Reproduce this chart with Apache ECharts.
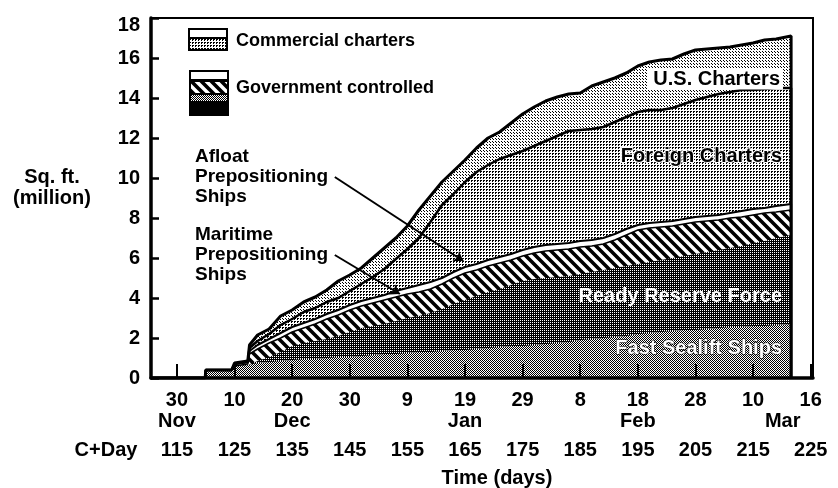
<!DOCTYPE html>
<html>
<head>
<meta charset="utf-8">
<title>Sealift capacity</title>
<script src="https://cdn.jsdelivr.net/npm/echarts@6/dist/echarts.min.js"></script>
<style>
  html, body { margin: 0; padding: 0; background: #fff; }
  #chart { width: 838px; height: 488px; }
</style>
</head>
<body>
<div id="chart"></div>
<script>
  // C+Day of each reading (last one repeated to close the area at the right edge)
  var days = [110.5, 119.9, 120, 124.5, 125, 127.3, 127.6, 129, 131, 133, 135, 137, 139, 141, 143, 145,
    147, 149, 151, 153, 155, 157, 159, 161, 163, 165, 167, 169, 171, 173, 175, 177, 179, 181, 183, 185,
    187, 189, 191, 193, 195, 197, 199, 201, 203, 205, 207, 209, 211, 213, 215, 217, 219, 221.6, 221.6];

  // top of each band (cumulative, million sq. ft.)
  var fastSealift = [0, 0, 0.4, 0.4, 0.6, 0.65, 0.7, 0.75, 0.8, 0.85, 0.9, 0.95, 0.95, 1.0, 1.05, 1.05,
    1.1, 1.15, 1.2, 1.2, 1.25, 1.3, 1.3, 1.35, 1.4, 1.4, 1.45, 1.5, 1.55, 1.6, 1.6, 1.65, 1.7, 1.75, 1.8, 1.9,
    1.95, 2.0, 2.05, 2.1, 2.2, 2.25, 2.3, 2.35, 2.4, 2.4, 2.45, 2.5, 2.55, 2.55, 2.6, 2.6, 2.65, 2.7, 0];
  var readyReserve = [0, 0, 0.4, 0.4, 0.6, 0.65, 0.75, 0.85, 1.05, 1.3, 1.6, 1.75, 1.85, 1.95, 2.1, 2.3,
    2.5, 2.6, 2.7, 2.85, 3.0, 3.1, 3.25, 3.45, 3.7, 3.9, 4.1, 4.3, 4.45, 4.65, 4.85, 4.95, 5.0, 5.05, 5.1, 5.2,
    5.3, 5.4, 5.5, 5.6, 5.7, 5.8, 5.9, 6.0, 6.1, 6.2, 6.3, 6.4, 6.5, 6.6, 6.75, 6.85, 7.0, 7.15, 0];
  var maritimePrepo = [0, 0, 0.4, 0.4, 0.6, 0.7, 1.2, 1.45, 1.75, 2.0, 2.3, 2.5, 2.7, 2.95, 3.15, 3.4,
    3.6, 3.75, 3.9, 4.05, 4.2, 4.3, 4.45, 4.7, 5.0, 5.25, 5.4, 5.6, 5.75, 5.9, 6.1, 6.25, 6.35, 6.4, 6.45, 6.55,
    6.6, 6.7, 6.9, 7.15, 7.4, 7.5, 7.55, 7.6, 7.7, 7.8, 7.85, 7.9, 8.0, 8.05, 8.15, 8.25, 8.3, 8.4, 0];
  var afloatPrepo = [0, 0, 0.4, 0.4, 0.7, 0.8, 1.35, 1.65, 1.95, 2.25, 2.55, 2.75, 2.95, 3.2, 3.4, 3.65,
    3.85, 4.0, 4.15, 4.35, 4.5, 4.65, 4.8, 5.0, 5.3, 5.55, 5.7, 5.9, 6.05, 6.2, 6.4, 6.55, 6.65, 6.7, 6.75, 6.85,
    6.9, 7.0, 7.2, 7.45, 7.65, 7.75, 7.8, 7.85, 7.95, 8.05, 8.1, 8.15, 8.25, 8.35, 8.45, 8.5, 8.6, 8.7, 0];
  var foreignCharters = [0, 0, 0.4, 0.4, 0.7, 0.8, 1.5, 1.85, 2.2, 2.65, 2.95, 3.3, 3.5, 3.8, 4.0, 4.35,
    4.7, 5.05, 5.45, 5.95, 6.45, 7.0, 7.8, 8.65, 9.2, 9.8, 10.3, 10.65, 10.95, 11.15, 11.35, 11.6, 11.85, 12.1, 12.35, 12.4,
    12.45, 12.55, 12.8, 13.05, 13.3, 13.4, 13.4, 13.5, 13.7, 13.9, 14.05, 14.2, 14.3, 14.4, 14.4, 14.45, 14.5, 14.5, 0];
  var usCharters = [0, 0, 0.4, 0.4, 0.75, 0.85, 1.65, 2.15, 2.45, 3.1, 3.4, 3.8, 4.05, 4.4, 4.85, 5.15,
    5.5, 6.0, 6.5, 7.0, 7.6, 8.4, 9.1, 9.8, 10.35, 10.9, 11.5, 12.0, 12.3, 12.75, 13.2, 13.55, 13.85, 14.05, 14.2, 14.25,
    14.6, 14.8, 15.0, 15.25, 15.6, 15.8, 15.9, 15.95, 16.2, 16.4, 16.45, 16.5, 16.55, 16.65, 16.75, 16.9, 16.95, 17.1, 0];

  // tick labels
  var cDayTicks = [115, 125, 135, 145, 155, 165, 175, 185, 195, 205, 215, 225];
  var dateLabels = ['30', '10', '20', '30', '9', '19', '29', '8', '18', '28', '10', '16'];
  var monthLabels = ['Nov', '', 'Dec', '', '', 'Jan', '', '', 'Feb', '', '', 'Mar'];

  // leader lines of the two annotations [day, value]
  var afloatLeader = [[142.4, 10.05], [164.7, 5.85]];
  var maritimeLeader = [[142.4, 6.15], [153.7, 4.2]];

  var FONT = '"Liberation Sans", Arial, sans-serif';

  // small canvas tiles to imitate the halftone fills
  function pattern(w, h, paint) {
    var c = document.createElement('canvas');
    c.width = w; c.height = h;
    var ctx = c.getContext('2d');
    ctx.fillStyle = '#fff';
    ctx.fillRect(0, 0, w, h);
    ctx.fillStyle = '#000';
    paint(ctx);
    return { image: c, repeat: 'repeat' };
  }
  var checker = pattern(2, 2, function (ctx) { ctx.fillRect(0, 0, 1, 1); ctx.fillRect(1, 1, 1, 1); });
  var darkDots = pattern(2, 2, function (ctx) { ctx.fillRect(0, 0, 2, 2); ctx.fillStyle = '#fff'; ctx.fillRect(0, 0, 1, 1); });
  var hatch = pattern(10, 10, function (ctx) {
    ctx.strokeStyle = '#000';
    ctx.lineWidth = 3.6;
    ctx.beginPath();
    [-10, 0, 10].forEach(function (k) { ctx.moveTo(k - 2, -2); ctx.lineTo(k + 12, 12); });
    ctx.stroke();
  });
  var midDots = pattern(3, 3, function (ctx) { ctx.fillRect(0, 0, 2, 1); ctx.fillRect(0, 1, 1, 1); });
  var lightDots = pattern(3, 3, function (ctx) { ctx.fillRect(0, 0, 1, 1); ctx.fillRect(1, 1, 1, 1); });

  function band(name, values, fill, lineWidth) {
    return {
      name: name,
      type: 'line',
      data: days.map(function (d, i) { return [d, values[i]]; }),
      symbol: 'none',
      showSymbol: false,
      silent: true,
      lineStyle: { color: '#000', width: lineWidth, opacity: lineWidth ? 1 : 0 },
      areaStyle: { color: fill, opacity: 1 }
    };
  }

  var series = [
    band('U.S. Charters', usCharters, lightDots, 3),
    band('Foreign Charters', foreignCharters, midDots, 2.5),
    band('Afloat Prepositioning Ships', afloatPrepo, '#fff', 2),
    band('Maritime Prepositioning Ships', maritimePrepo, hatch, 1.5),
    band('Ready Reserve Force', readyReserve, darkDots, 0),
    band('Fast Sealift Ships', fastSealift, checker, 0)
  ];
  series[5].markLine = {
    silent: true,
    symbol: ['none', 'arrow'],
    symbolSize: 9,
    label: { show: false },
    lineStyle: { color: '#000', width: 2, type: 'solid' },
    data: [
      [{ coord: afloatLeader[0] }, { coord: afloatLeader[1] }],
      [{ coord: maritimeLeader[0] }, { coord: maritimeLeader[1] }]
    ]
  };

  function txt(text, x, y, size, align, extra) {
    var style = {
      text: text, x: x, y: y, fill: '#000',
      font: 'bold ' + size + 'px ' + FONT,
      textAlign: align, align: align,
      textVerticalAlign: 'middle', verticalAlign: 'middle'
    };
    for (var k in extra) style[k] = extra[k];
    return { type: 'text', z: 20, silent: true, style: style };
  }

  var myChart = echarts.init(document.getElementById('chart'));

  var option = {
    animation: false,
    backgroundColor: '#fff',
    grid: {
      left: 151, right: 25, top: 18, bottom: 110,
      outerBoundsMode: 'none', containLabel: false,
      show: true, borderColor: '#000', borderWidth: 2
    },
    xAxis: [
      {
        type: 'value', min: 110.5, max: 225.4, z: 10,
        splitLine: { show: false },
        axisLine: { lineStyle: { color: '#000', width: 3.5 } },
        axisTick: { inside: true, length: 14, customValues: cDayTicks, lineStyle: { color: '#000', width: 2 } },
        axisLabel: {
          customValues: cDayTicks,
          showMinLabel: true, showMaxLabel: true, hideOverlap: false,
          margin: 12,
          formatter: function (v) {
            var i = cDayTicks.indexOf(v);
            var m = monthLabels[i];
            var key = i === cDayTicks.length - 1 ? 'mr' : 'm';
            return '{d|' + dateLabels[i] + '}\n' + (m ? '{' + key + '|' + m + '}' : '{m| }');
          },
          rich: {
            d: { fontFamily: FONT, fontWeight: 'bold', fontSize: 20, color: '#000', lineHeight: 21 },
            m: { fontFamily: FONT, fontWeight: 'bold', fontSize: 20, color: '#000', lineHeight: 21 },
            mr: { fontFamily: FONT, fontWeight: 'bold', fontSize: 20, color: '#000', lineHeight: 21, padding: [0, 56, 0, 0] }
          }
        }
      },
      {
        type: 'value', min: 110.5, max: 225.4, position: 'bottom',
        splitLine: { show: false },
        axisLine: { show: false },
        axisTick: { show: false },
        axisLabel: {
          customValues: cDayTicks,
          showMinLabel: true, showMaxLabel: true,
          margin: 62,
          fontFamily: FONT, fontWeight: 'bold', fontSize: 20, color: '#000'
        }
      }
    ],
    yAxis: {
      type: 'value', min: 0, max: 18, interval: 2, z: 10,
      splitLine: { show: false },
      axisLine: { show: true, lineStyle: { color: '#000', width: 3.5 } },
      axisTick: { show: true, inside: true, length: 8, lineStyle: { color: '#000', width: 2.5 } },
      axisLabel: {
        margin: 11,
        formatter: function (v) { return v === 18 ? '{top|18}' : '{n|' + v + '}'; },
        rich: {
          n: { fontFamily: FONT, fontWeight: 'bold', fontSize: 20, color: '#000' },
          top: { fontFamily: FONT, fontWeight: 'bold', fontSize: 20, color: '#000', padding: [14, 0, 0, 0] }
        }
      }
    },
    series: series,
    graphic: {
      elements: [
        txt('Sq. ft.\n(million)', 52, 188, 20, 'center', { lineHeight: 21 }),
        txt('C+Day', 106, 450, 20, 'center'),
        txt('Time (days)', 497, 478, 20, 'center'),

        // legend
        { type: 'rect', z: 20, silent: true, shape: { x: 189, y: 29, width: 38, height: 21 }, style: { fill: '#fff', stroke: '#000', lineWidth: 2 } },
        { type: 'rect', z: 21, silent: true, shape: { x: 190, y: 39, width: 36, height: 10 }, style: { fill: midDots } },
        { type: 'line', z: 21, silent: true, shape: { x1: 189, y1: 38, x2: 227, y2: 38 }, style: { stroke: '#000', lineWidth: 2 } },
        txt('Commercial charters', 236, 41, 18, 'left'),
        { type: 'rect', z: 20, silent: true, shape: { x: 189, y: 70, width: 40, height: 46 }, style: { fill: '#000' } },
        { type: 'rect', z: 21, silent: true, shape: { x: 191, y: 72, width: 36, height: 7 }, style: { fill: '#fff' } },
        { type: 'rect', z: 21, silent: true, shape: { x: 191, y: 82, width: 36, height: 11 }, style: { fill: hatch } },
        { type: 'rect', z: 21, silent: true, shape: { x: 191, y: 95, width: 36, height: 6 }, style: { fill: checker } },
        txt('Government controlled', 236, 88, 18, 'left'),

        // annotations
        txt('Afloat\nPrepositioning\nShips', 195, 177, 19, 'left', { lineHeight: 20 }),
        txt('Maritime\nPrepositioning\nShips', 195, 255, 19, 'left', { lineHeight: 20 }),

        // band names
        txt('U.S. Charters', 783, 79, 20, 'right', { backgroundColor: '#fff', padding: [1, 3, 0, 6] }),
        txt('Foreign Charters', 782, 156, 20, 'right', { stroke: '#fff', lineWidth: 2, strokeFirst: true }),
        txt('Ready Reserve Force', 782, 296, 20, 'right', { fill: '#fff' }),
        txt('Fast Sealift Ships', 782, 348, 20, 'right', { fill: '#fff', stroke: '#000', lineWidth: 1, strokeFirst: true })
      ]
    }
  };

  myChart.setOption(option);

  window.addEventListener('resize', function () {
    myChart.resize();
  });
</script>
</body>
</html>
